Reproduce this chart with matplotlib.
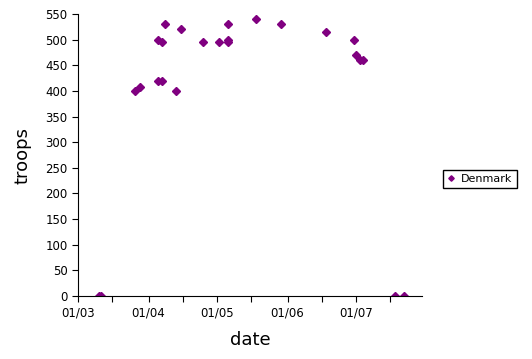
import matplotlib
matplotlib.use("Agg")
import matplotlib.pyplot as plt
import matplotlib.dates as mdates
import numpy as np
import datetime as dt

# -----------------------------
# DATA
# -----------------------------
dates = ["1864-03-10", "1864-03-11", "1864-03-26", "1864-03-28",
         "1864-04-05", "1864-04-07", "1864-04-05", "1864-04-07",
         "1864-04-08", "1864-04-13", "1864-04-15", "1864-04-25",
         "1864-05-02", "1864-05-06", "1864-05-06", "1864-05-06",
         "1864-05-18", "1864-05-29", "1864-06-18", "1864-06-30",
         "1864-07-01", "1864-07-03", "1864-07-04", "1864-07-18",
         "1864-07-22"]
troops = [0, 0, 400, 408,
          500, 495, 420, 420,
          530, 400, 520, 495,
          495, 500, 495, 530,
          540, 530, 515, 500,
          470, 460, 460, 0,
          0]

x = [dt.datetime.strptime(d, "%Y-%m-%d") for d in dates]

# -----------------------------
# PLOT
# -----------------------------
fig = plt.figure(figsize=(5.32, 3.59), dpi=100)
ax = fig.add_axes([78/532, 63/359, 344/532, 282/359])

ax.plot(x, troops, linestyle='none', marker='D', markersize=3.7,
        color='#800080', label='Denmark')

ax.set_xlim(dt.datetime(1864, 3, 1), dt.datetime(1864, 7, 30))
ax.set_ylim(0, 550)
ax.set_yticks(np.arange(0, 551, 50))

ax.xaxis.set_major_locator(mdates.MonthLocator())
ax.xaxis.set_major_formatter(mdates.DateFormatter('%d/%m'))
ax.xaxis.set_minor_locator(mdates.MonthLocator(bymonthday=16))

for s in ['top', 'right']:
    ax.spines[s].set_visible(False)
ax.tick_params(which='both', direction='out', length=4, width=0.8, labelsize=8.5)

ax.set_xlabel('date', fontsize=13, va='center')
ax.set_ylabel('troops', fontsize=13, va='center')
ax.xaxis.set_label_coords(0.5, -44/282)
ax.yaxis.set_label_coords(-56/344, 0.5)

fig.legend(loc='center left', bbox_to_anchor=(443/532, 1 - 179/359),
           fontsize=8, fancybox=False, edgecolor='black', framealpha=1,
           handlelength=0.8, handletextpad=0.5, borderpad=0.35,
           borderaxespad=0, markerscale=0.75)

plt.savefig('out.png', dpi=100)
